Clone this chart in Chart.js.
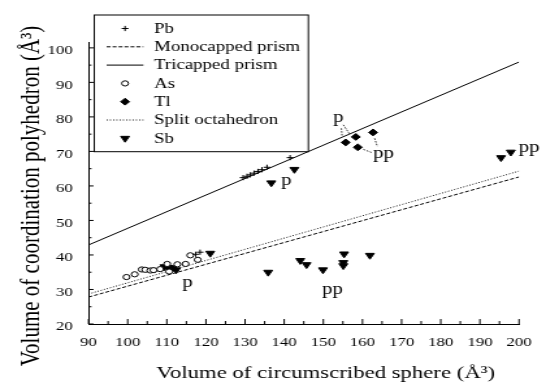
<!DOCTYPE html>
<html><head><meta charset="utf-8">
<script src="https://cdn.jsdelivr.net/npm/chart.js@4.4.1/dist/chart.umd.min.js"></script>
<style>
html,body{margin:0;padding:0;background:#fff;overflow:hidden;}
#wrap{position:absolute;left:0;top:0;width:420px;height:387px;transform:scaleX(1.3);transform-origin:0 0;}
</style></head><body>
<div id="wrap"><canvas id="c"></canvas></div>
<script>
// ---- data ----
const xTickValues = [90,100,110,120,130,140,150,160,170,180,190,200];
const yTickValues = [20,30,40,50,60,70,80,90,100];

const pbX = [117.4,118.5,129.5,130.5,131.3,132.3,133.3,134.3,135.6,141.5];
const pbY = [40.2,40.8,62.4,62.8,63.2,63.7,64.2,64.7,65.4,68.2];

const asX = [99.7,101.8,103.6,104.5,105.8,106.6,108.3,110.1,110.6,112.7,114.8,116.0,117.9];
const asY = [33.6,34.4,35.8,35.7,35.5,35.6,35.9,37.4,35.2,37.3,37.4,39.9,38.6];

const tlX = [155.7,158.3,158.8,162.7];
const tlY = [72.6,74.2,71.2,75.5];

const sbX = [109.4,110.3,111.6,112.4,121.1,136.7,142.6,135.9,144.1,145.7,149.9,155.3,155.1,155.1,161.9,195.4,197.9];
const sbY = [36.6,36.4,36.3,35.7,40.5,60.9,64.8,35.0,38.4,37.2,35.7,40.3,37.8,36.9,39.9,68.2,69.8];

const lineX = [90,200];
const tricapped = [42.9,95.9];
const monocapped = [27.8,62.6];
const splitOct = [28.7,64.3];

// annotation labels (data coordinates)
const noteX = [115.3,140.5,153.8,165.4,202.6,152.3];
const noteY = [31.9,61.4,79.7,69.4,71.0,29.9];
const noteText = ['p','p','p','pp','pp','pp'];

// leader lines (pairs of points, data coordinates)
const leaderX = [[154.6,154.8],[155.1,156.8],[160.2,162.3],[163.1,163.8]];
const leaderY = [[76.7,74.4],[77.7,74.9],[70.6,69.7],[73.8,71.4]];

// ---- styling ----
const SX = 1.3;
const FONT = "'Liberation Serif','Times New Roman',serif";
const pts = (xs, ys) => xs.map((x, i) => ({x, y: ys[i]}));

const markerDefs = {
  Pb: {pointStyle:'cross', pointRadius:2.6, borderWidth:1},
  As: {pointStyle:'circle', pointRadius:2.6, borderWidth:1, backgroundColor:'#fff'},
  Tl: {pointStyle:'rectRot', pointRadius:3.4, borderWidth:1, backgroundColor:'#000'},
  Sb: {pointStyle:'triangle', pointRadius:3.9, rotation:180, borderWidth:1, backgroundColor:'#000'}
};

const datasets = [
  Object.assign({label:'Pb', data:pts(pbX,pbY), borderColor:'#000', showLine:false}, markerDefs.Pb),
  {label:'Monocapped prism', data:pts(lineX,monocapped), showLine:true, pointRadius:0, borderColor:'#000', borderWidth:1, borderDash:[3,1.6]},
  {label:'Tricapped prism', data:pts(lineX,tricapped), showLine:true, pointRadius:0, borderColor:'#000', borderWidth:1},
  Object.assign({label:'As', data:pts(asX,asY), borderColor:'#000', showLine:false}, markerDefs.As),
  Object.assign({label:'Tl', data:pts(tlX,tlY), borderColor:'#000', showLine:false}, markerDefs.Tl),
  {label:'Split octahedron', data:pts(lineX,splitOct), showLine:true, pointRadius:0, borderColor:'#000', borderWidth:1, borderDash:[0.9,1.6]},
  Object.assign({label:'Sb', data:pts(sbX,sbY), borderColor:'#000', showLine:false}, markerDefs.Sb)
];
leaderX.forEach((lx, i) => datasets.push({label:'_leader'+i, data:pts(lx, leaderY[i]), showLine:true, pointRadius:0, borderColor:'#000', borderWidth:0.8, borderDash:[1.6,1.2]}));

function drawSymbol(ctx, type, cx, cy) {
  ctx.save();
  ctx.strokeStyle = '#000'; ctx.fillStyle = '#000'; ctx.lineWidth = 1;
  ctx.beginPath();
  if (type === 'Pb') {
    const r = markerDefs.Pb.pointRadius;
    ctx.moveTo(cx - r, cy); ctx.lineTo(cx + r, cy); ctx.moveTo(cx, cy - r); ctx.lineTo(cx, cy + r); ctx.stroke();
  } else if (type === 'As') {
    ctx.arc(cx, cy, markerDefs.As.pointRadius, 0, Math.PI * 2); ctx.stroke();
  } else if (type === 'Tl') {
    const r = markerDefs.Tl.pointRadius;
    ctx.moveTo(cx - r, cy); ctx.lineTo(cx, cy - r); ctx.lineTo(cx + r, cy); ctx.lineTo(cx, cy + r); ctx.closePath(); ctx.fill(); ctx.stroke();
  } else if (type === 'Sb') {
    const r = markerDefs.Sb.pointRadius;
    ctx.moveTo(cx, cy + r); ctx.lineTo(cx + r * Math.sin(2*Math.PI/3), cy - r*0.5); ctx.lineTo(cx - r * Math.sin(2*Math.PI/3), cy - r*0.5); ctx.closePath(); ctx.fill(); ctx.stroke();
  } else {
    ctx.setLineDash(type);
    ctx.moveTo(82, cy); ctx.lineTo(110.3, cy); ctx.stroke();
  }
  ctx.restore();
}

const extras = {
  id: 'extras',
  afterDraw(chart) {
    const {ctx, chartArea: a, scales: {x, y}} = chart;
    ctx.save();
    // inward tick marks
    ctx.strokeStyle = '#000'; ctx.lineWidth = 1; ctx.beginPath();
    for (let v = x.min; v <= x.max + 1e-9; v += 5) {
      const px = x.getPixelForValue(v); const L = (v % 10 === 0) ? 5 : 3;
      ctx.moveTo(px, a.bottom); ctx.lineTo(px, a.bottom - L);
    }
    for (let v = yTickValues[0]; v <= yTickValues[yTickValues.length-1] + 1e-9; v += 5) {
      const py = y.getPixelForValue(v); const L = ((v % 10 === 0) ? 5 : 3) / SX;
      ctx.moveTo(a.left, py); ctx.lineTo(a.left + L, py);
    }
    ctx.stroke();

    // annotation text
    ctx.fillStyle = '#000'; ctx.font = '16px ' + FONT; ctx.textAlign = 'center'; ctx.textBaseline = 'middle';
    noteText.forEach((t, i) => ctx.fillText(t, x.getPixelForValue(noteX[i]), y.getPixelForValue(noteY[i])));

    // axis titles
    ctx.font = '17.5px ' + FONT; ctx.textAlign = 'center'; ctx.textBaseline = 'alphabetic';
    ctx.fillText('Volume of circumscribed sphere (\u00C5\u00B3)', 250.6, 377.5);
    ctx.save();
    ctx.translate(24.6, 196); ctx.rotate(-Math.PI / 2);
    ctx.font = '21px ' + FONT; ctx.textBaseline = 'middle';
    ctx.fillText('Volume of coordination polyhedron (\u00C5\u00B3)', 0, 0);
    ctx.restore();

    // legend
    const bx = 72.5, by = 15, bw = 164.7, bh = 136.7;
    ctx.fillStyle = '#fff'; ctx.fillRect(bx, by, bw, bh);
    ctx.strokeStyle = '#000'; ctx.lineWidth = 1; ctx.strokeRect(bx, by, bw, bh);
    const items = [
      ['Pb','Pb'], ['Monocapped prism',[3,1.6]], ['Tricapped prism',[]], ['As','As'], ['Tl','Tl'], ['Split octahedron',[0.9,1.6]], ['Sb','Sb']
    ];
    ctx.font = '14.5px ' + FONT; ctx.textAlign = 'left'; ctx.textBaseline = 'middle'; 
    items.forEach((it, i) => {
      const cy = 28.5 + i * 18.3;
      drawSymbol(ctx, it[1], 96.2, cy);
      ctx.fillStyle = '#000';
      ctx.fillText(it[0], 118.5, cy + 0.5);
    });
    ctx.restore();
  }
};

new Chart(document.getElementById('c'), {
  type: 'scatter',
  data: {datasets},
  options: {
    responsive: true, maintainAspectRatio: false, animation: false,
    devicePixelRatio: 1,
    layout: {padding: {left: 0, top: 42, right: 14.6, bottom: 0}},
    plugins: {legend: {display: false}, tooltip: {enabled: false}},
    scales: {
      x: {
        type: 'linear', min: xTickValues[0], max: xTickValues[xTickValues.length-1],
        afterBuildTicks: s => { s.ticks = xTickValues.map(v => ({value: v})); },
        afterFit: s => { s.height = 63; },
        grid: {display: true, drawOnChartArea: false, drawTicks: false},
        border: {display: true, color: '#000', width: 1},
        ticks: {color: '#000', font: {family: FONT, size: 13}, padding: 11, maxRotation: 0, autoSkip: false}
      },
      y: {
        type: 'linear', min: yTickValues[0], max: 101.7,
        afterBuildTicks: s => { s.ticks = yTickValues.map(v => ({value: v})); },
        afterFit: s => { s.width = 68.1; },
        grid: {display: true, drawOnChartArea: false, drawTicks: false},
        border: {display: true, color: '#000', width: 1},
        ticks: {color: '#000', font: {family: FONT, size: 13}, padding: 12, labelOffset: 3, autoSkip: false}
      }
    }
  },
  plugins: [extras]
});
</script>
</body></html>
